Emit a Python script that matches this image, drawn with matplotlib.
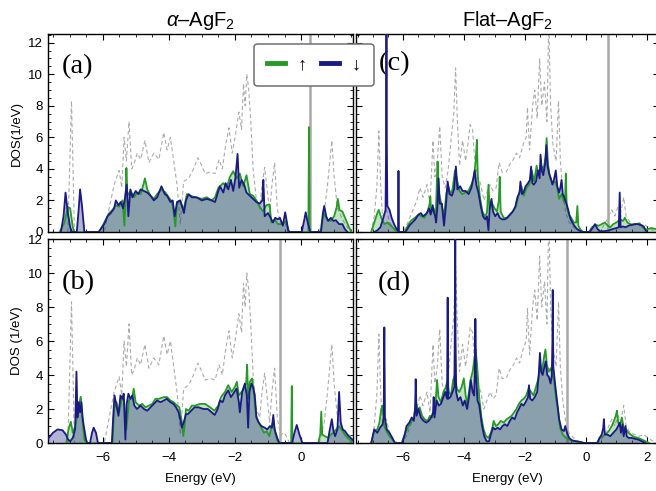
import numpy as np
import matplotlib
matplotlib.use("Agg")
import matplotlib.pyplot as plt
from matplotlib.lines import Line2D
from matplotlib.ticker import MultipleLocator

plt.rcParams['font.family'] = ['Liberation Sans', 'DejaVu Sans']
plt.rcParams['mathtext.fontset'] = 'custom'
plt.rcParams['mathtext.rm'] = 'Liberation Sans'
plt.rcParams['mathtext.it'] = 'Liberation Sans:italic'

# ---- data (energy in eV, DOS in 1/eV) ----
# (a) alpha-AgF2, spin up / spin down
a_up_E = [-7.3, -7.15, -7.05, -6.98, -6.9, -6.85,
          -6.10, -5.95, -5.8, -5.7, -5.6, -5.5, -5.4, -5.34, -5.3, -5.28, -5.25, -5.15, -5.05, -4.95,
          -4.85, -4.78, -4.72, -4.65, -4.55, -4.45, -4.35, -4.22, -4.1, -4.0, -3.9, -3.85, -3.8, -3.75,
          -3.65, -3.55, -3.45, -3.35, -3.2, -3.0, -2.85, -2.7, -2.6, -2.5, -2.35, -2.25, -2.15, -2.05,
          -1.95, -1.85, -1.75, -1.65, -1.55, -1.45, -1.35, -1.25, -1.15, -1.05, -0.95, -0.9, -0.8, -0.7,
          -0.55, -0.45, -0.4, -0.35,
          0.22, 0.24, 0.26,
          0.6, 0.68, 0.78, 0.9, 1.0, 1.08, 1.11, 1.16, 1.25, 1.35, 1.45, 1.52]
a_up_D = [0, 0.6, 1.6, 1.5, 0.3, 0,
          0, 0.6, 1.2, 1.4, 1.7, 1.6, 2.0, 0.4, 2.5, 4.06, 2.3, 2.6, 2.2, 2.5,
          2.4, 2.9, 3.4, 2.7, 2.3, 2.1, 2.4, 2.7, 2.5, 2.2, 1.9, 1.2, 0.35, 1.8,
          2.0, 1.4, 2.4, 2.3, 2.2, 2.1, 2.2, 2.0, 2.2, 2.8, 3.1, 2.8, 3.5, 3.85,
          3.4, 3.7, 2.9, 3.6, 2.4, 2.3, 2.0, 1.6, 1.3, 1.7, 1.75, 0.6, 0.8, 0.5,
          0.5, 0.7, 0.2, 0,
          0, 6.65, 0,
          0, 1.2, 0.8, 0.7, 1.0, 1.6, 2.1, 1.4, 1.3, 0.8, 0.3, 0]
a_dn_E = [-7.26, -7.18, -7.12, -7.05, -6.98, -6.92, -6.78, -6.72, -6.68, -6.62, -6.55,
          -6.12, -5.95, -5.85, -5.75, -5.65, -5.6, -5.52, -5.45, -5.38, -5.32, -5.27, -5.22, -5.16,
          -5.1, -5.0, -4.92, -4.85, -4.75, -4.65, -4.55, -4.45, -4.35, -4.22, -4.12, -4.05, -3.95,
          -3.88, -3.82, -3.75, -3.66, -3.58, -3.54, -3.48, -3.4, -3.3, -3.15, -3.0, -2.85, -2.7,
          -2.6, -2.5, -2.45, -2.35, -2.28, -2.2, -2.12, -2.05, -1.98, -1.92, -1.87, -1.8, -1.72,
          -1.65, -1.55, -1.45, -1.35, -1.25, -1.17, -1.14, -1.1, -1.0, -0.92, -0.85, -0.78, -0.7,
          -0.64, -0.55, -0.48, -0.42, -0.38,
          0.02, 0.1, 0.14, 0.2, 0.28,
          0.6, 0.66, 0.7, 0.76, 0.82, 0.9, 0.98, 1.05, 1.15, 1.25, 1.32, 1.4]
a_dn_D = [0, 1.0, 2.5, 1.2, 0.3, 0, 0, 1.5, 2.7, 1.6, 0,
          0, 0.5, 1.0, 1.2, 1.5, 2.0, 1.7, 1.9, 1.5, 2.2, 3.0, 1.0, 2.7,
          2.2, 2.6, 2.4, 2.7, 2.6, 2.5, 2.3, 2.0, 2.2, 2.9, 2.4, 2.3, 1.9,
          2.0, 1.0, 1.9, 2.0, 1.5, 1.2, 2.0, 2.4, 2.2, 2.2, 2.0, 2.1, 2.0,
          1.9, 2.6, 2.9, 2.5, 3.1, 2.7, 3.3, 2.6, 3.5, 4.95, 2.8, 3.3, 3.0,
          2.5, 2.3, 2.1, 1.9, 1.8, 2.0, 3.3, 1.0, 1.2, 0.9, 0.6, 0.9, 0.8,
          0.9, 0.4, 1.25, 0.5, 0,
          0, 0.8, 1.25, 0.6, 0,
          0, 1.2, 1.65, 1.0, 0.7, 0.9, 0.7, 0.75, 0.5, 0.5, 0.2, 0]

# total DOS (dashed), alpha-AgF2
alpha_tot_E = [-7.05, -6.94, -6.85,
               -5.95, -5.8, -5.65, -5.5, -5.42, -5.35, -5.28, -5.2, -5.12, -5.05, -4.95, -4.85, -4.72,
               -4.6, -4.45, -4.3, -4.15, -4.05, -3.95, -3.85, -3.75, -3.65, -3.55, -3.4, -3.25, -3.12,
               -3.0, -2.9, -2.75, -2.6, -2.48, -2.38, -2.28, -2.18, -2.08, -1.98, -1.88, -1.8, -1.74,
               -1.69, -1.64, -1.58, -1.52, -1.45, -1.35, -1.25, -1.18, -1.1, -1.02, -0.95, -0.88, -0.8,
               -0.72, -0.62, -0.5, -0.42, -0.35,
               0.55, 0.7, 0.8, 0.93, 1.0, 1.1, 1.25, 1.4, 1.5]
alpha_tot_D = [0, 8.3, 0,
               0, 1.5, 3.0, 3.9, 2.8, 6.0, 4.5, 7.0, 4.0, 4.3, 5.0, 4.6, 5.8,
               4.4, 5.0, 4.6, 6.3, 5.2, 6.0, 4.5, 3.0, 0.5, 3.2, 3.4, 4.0, 4.7,
               4.2, 3.7, 3.8, 3.7, 4.6, 4.0, 5.5, 6.6, 5.0, 6.2, 7.6, 6.5, 9.4,
               8.0, 10.0, 9.0, 7.0, 4.0, 2.0, 1.5, 3.0, 4.1, 2.6, 1.2, 3.0, 4.4,
               1.5, 0.5, 0.6, 0.3, 0,
               0, 1.2, 3.0, 5.8, 3.5, 1.5, 0.8, 0.3, 0]

# (b) alpha-AgF2, second configuration
b_up_E = [-7.1, -7.03, -6.96, -6.9, -6.82, -6.74, -6.66, -6.6, -6.55, -6.5,
          -5.7, -5.65, -5.58, -5.5, -5.42, -5.35, -5.28, -5.2, -5.1, -5.06, -5.0, -4.9, -4.8, -4.7,
          -4.6, -4.5, -4.4, -4.3, -4.15, -4.05, -3.95, -3.85, -3.75, -3.68, -3.6, -3.56, -3.52, -3.48,
          -3.4, -3.3, -3.2, -3.05, -2.9, -2.75, -2.62, -2.5, -2.42, -2.3, -2.2, -2.1, -2.0, -1.94,
          -1.88, -1.8, -1.72, -1.66, -1.63, -1.6, -1.55, -1.48, -1.42, -1.36, -1.28, -1.2, -1.12,
          -1.04, -0.96, -0.9, -0.84, -0.78, -0.72, -0.66,
          -0.3, -0.28, -0.26,
          0.52, 0.58, 0.61, 0.64, 0.72, 0.82, 0.9, 0.98, 1.06, 1.14, 1.22, 1.32, 1.42, 1.52, 1.58]
b_up_D = [0, 0.8, 1.25, 0.6, 1.0, 2.0, 2.72, 1.2, 0.2, 0,
          0, 2.0, 2.4, 1.8, 2.6, 2.5, 0.8, 2.5, 2.7, 3.2, 2.4, 2.2, 2.3, 2.1,
          2.2, 2.3, 2.6, 2.6, 2.7, 2.7, 2.5, 2.4, 2.2, 2.1, 1.2, 0.4, 1.0, 2.0,
          1.9, 2.2, 2.2, 2.3, 2.3, 2.1, 1.9, 2.2, 2.7, 3.0, 3.4, 3.0, 3.3, 3.6,
          2.8, 3.0, 3.2, 3.5, 4.6, 2.6, 3.6, 3.8, 2.8, 1.6, 1.2, 0.9, 0.6,
          0.7, 0.4, 0.9, 1.3, 0.6, 0.15, 0,
          0, 3.35, 0,
          0, 0.5, 1.84, 0.5, 0.4, 0.3, 0.5, 0.6, 0.8, 1.0, 0.8, 0.5, 0.3, 0.1, 0]
b_dn_E = [-7.67, -7.5, -7.36, -7.21, -7.11, -7.04, -6.98, -6.9, -6.83, -6.79, -6.76, -6.72, -6.68,
          -6.64, -6.6, -6.56, -6.5, -6.46, -6.38, -6.32, -6.27, -6.2, -6.14,
          -5.72, -5.68, -5.64, -5.58, -5.52, -5.46, -5.4, -5.36, -5.31, -5.27, -5.22, -5.16, -5.1,
          -5.04, -4.96, -4.85, -4.75, -4.65, -4.55, -4.45, -4.35, -4.25, -4.15, -4.06, -3.95, -3.86,
          -3.78, -3.7, -3.64, -3.6, -3.55, -3.48, -3.42, -3.32, -3.22, -3.1, -2.95, -2.82, -2.7,
          -2.61, -2.52, -2.45, -2.37, -2.3, -2.2, -2.12, -2.05, -1.95, -1.88, -1.85, -1.78, -1.7,
          -1.64, -1.6, -1.56, -1.5, -1.44, -1.4, -1.35, -1.28, -1.2, -1.1, -1.02, -0.94, -0.88,
          -0.84, -0.8, -0.72, -0.66,
          -0.27, -0.2, -0.13, -0.05, 0.04,
          0.8, 0.86, 0.93, 0.98, 1.03, 1.1, 1.15, 1.2, 1.26, 1.33, 1.4, 1.5, 1.6, 1.65]
b_dn_D = [0.2, 0.6, 0.8, 0.75, 0.5, 0.2, 0.1, 0.3, 0.8, 4.2, 1.5, 2.4, 1.8,
          2.4, 1.4, 0.9, 0.2, 0, 0, 0.6, 0.9, 0.6, 0,
          0, 1.5, 2.8, 2.2, 1.6, 2.8, 2.6, 2.9, 0.2, 2.3, 2.9, 2.6, 2.8,
          2.2, 2.0, 2.2, 2.0, 1.9, 2.1, 2.3, 2.5, 2.4, 2.5, 2.6, 2.4, 2.3,
          2.1, 1.8, 1.3, 0.9, 1.2, 1.7, 1.7, 1.9, 2.1, 2.1, 2.0, 2.0, 1.8,
          1.65, 2.0, 2.5, 2.4, 2.8, 3.1, 2.7, 2.9, 3.2, 2.4, 1.8, 3.0, 3.5,
          2.8, 0.9, 3.0, 3.5, 3.2, 2.8, 1.5, 1.2, 1.0, 0.9, 0.8, 1.0, 0.9,
          1.65, 0.8, 0.3, 0,
          0, 0.6, 1.06, 0.5, 0,
          0, 0.7, 1.4, 0.7, 0.4, 0.8, 3.0, 1.2, 0.8, 0.7, 0.5, 0.3, 0.1, 0]

# (c) flat-AgF2
c_up_E = [-7.05, -6.95, -6.85, -6.8, -6.72, -6.62, -6.52, -6.4, -6.3, -6.2,
          -5.95, -5.85, -5.75, -5.62, -5.5, -5.4, -5.3, -5.2, -5.13, -5.11, -5.08, -5.0, -4.93,
          -4.89, -4.87, -4.83, -4.75, -4.66, -4.58, -4.52, -4.45, -4.38, -4.3, -4.22, -4.15, -4.06,
          -3.96, -3.86, -3.76, -3.68, -3.62, -3.58, -3.55, -3.48, -3.4, -3.32, -3.25, -3.2, -3.16,
          -3.08, -3.0, -2.92, -2.86, -2.83, -2.8, -2.7, -2.6, -2.5, -2.4, -2.3, -2.2, -2.12, -2.04,
          -1.95, -1.86, -1.78, -1.7, -1.62, -1.55, -1.48, -1.4, -1.32, -1.29, -1.25, -1.18, -1.1,
          -1.02, -0.95, -0.88, -0.8, -0.72, -0.68, -0.66, -0.63, -0.56, -0.48, -0.4, -0.32, -0.28,
          -0.25, -0.18, -0.08,
          0.1, 0.2, 0.32, 0.42, 0.52, 0.62, 0.72, 0.8, 0.9, 1.0, 1.12, 1.22, 1.28, 1.36, 1.46, 1.56,
          1.66, 1.76, 1.86, 1.96, 2.06, 2.16, 2.26, 2.35]
c_up_D = [0, 0.6, 1.2, 1.4, 0.9, 0.5, 0.6, 0.4, 0.2, 0,
          0, 0.4, 0.7, 0.9, 1.1, 1.0, 0.9, 1.3, 1.8, 2.24, 1.2, 1.5, 1.0,
          3.5, 4.46, 2.5, 1.8, 1.0, 2.5, 2.9, 2.4, 2.7, 3.9, 3.2, 2.6, 2.4,
          2.5, 2.6, 3.0, 3.4, 4.5, 5.84, 3.5, 2.2, 1.3, 1.0, 1.2, 3.0, 1.4,
          1.8, 1.5, 1.3, 2.0, 3.5, 1.3, 0.9, 0.9, 1.1, 1.3, 1.6, 2.4, 2.9, 2.3,
          2.8, 3.0, 3.9, 3.2, 4.2, 3.6, 4.3, 3.9, 4.8, 5.95, 4.4, 3.4, 3.1,
          3.2, 2.9, 2.1, 2.4, 1.9, 2.4, 3.7, 1.6, 1.1, 0.9, 0.6, 0.6, 1.65,
          0.4, 0.15, 0,
          0, 0.3, 0.45, 0.4, 0.5, 0.6, 0.4, 0.3, 0.5, 0.6, 0.8, 0.7, 0.9, 0.6, 0.5, 0.45,
          0.5, 0.55, 0.3, 0.15, 0.2, 0.25, 0.2, 0.15]
c_dn_E = [-6.95, -6.85, -6.75, -6.65, -6.58, -6.56, -6.55, -6.54, -6.52, -6.45, -6.38, -6.3,
          -6.22, -6.17, -6.155, -6.14, -6.1,
          -5.92, -5.8, -5.7, -5.6, -5.5, -5.42, -5.35, -5.28, -5.22, -5.15, -5.1, -5.03, -5.0,
          -4.95, -4.92, -4.88, -4.84, -4.8, -4.73, -4.66, -4.6, -4.54, -4.48, -4.4, -4.33, -4.27,
          -4.22, -4.13, -4.05, -3.95, -3.85, -3.76, -3.7, -3.65, -3.6, -3.53, -3.45, -3.38, -3.31,
          -3.25, -3.2, -3.16, -3.1, -3.05, -2.98, -2.9, -2.83, -2.75, -2.66, -2.58, -2.49, -2.4,
          -2.32, -2.25, -2.18, -2.15, -2.1, -2.05, -1.98, -1.9, -1.84, -1.8, -1.76, -1.71, -1.64,
          -1.58, -1.52, -1.49, -1.45, -1.4, -1.34, -1.3, -1.26, -1.21, -1.15, -1.1, -1.05, -0.99,
          -0.94, -0.88, -0.84, -0.8, -0.76, -0.71, -0.64, -0.58, -0.52, -0.45, -0.38, -0.3, -0.22,
          -0.12,
          0.12, 0.2, 0.3, 0.38, 0.46, 0.6, 0.75, 0.9, 1.0, 1.08, 1.11, 1.14, 1.22, 1.3, 1.4, 1.5,
          1.6, 1.7, 1.8, 1.9, 1.96, 2.0]
c_dn_D = [0, 0.1, 0.3, 0.9, 1.4, 6.0, 13.5, 6.0, 1.65, 1.4, 0.9, 0.5,
          0.2, 0.05, 3.87, 0.05, 0,
          0, 0.4, 0.6, 0.8, 1.1, 1.2, 1.0, 1.1, 1.2, 1.5, 1.1, 1.7, 1.3,
          1.0, 0.6, 1.5, 3.4, 1.8, 1.8, 0.4, 1.6, 3.2, 2.4, 2.3, 2.7, 4.15,
          2.7, 2.9, 2.6, 2.6, 2.4, 2.8, 3.4, 3.9, 3.0, 2.5, 1.6, 1.0, 0.8,
          1.0, 0.1, 1.5, 2.1, 1.3, 1.0, 1.2, 0.9, 0.8, 0.8, 0.9, 1.1, 1.3,
          1.6, 2.2, 2.5, 3.2, 2.4, 2.5, 2.9, 3.1, 3.3, 4.15, 3.1, 3.0, 3.2,
          3.9, 3.4, 4.9, 3.9, 3.6, 4.3, 5.5, 4.2, 3.7, 3.4, 3.0, 3.3, 3.9,
          2.9, 2.5, 2.8, 3.3, 2.4, 2.2, 1.8, 1.4, 0.9, 0.6, 0.4, 0.2, 0.1,
          0,
          0, 0.2, 0.5, 0.2, 0.05, 0.05, 0.1, 0.2, 0.25, 0.3, 2.5, 0.3, 0.35, 0.3, 0.4, 0.45,
          0.5, 0.5, 0.45, 0.35, 0.1, 0]

# total DOS (dashed), flat-AgF2
flat_tot_E = [-7.05, -6.95, -6.86, -6.8, -6.74, -6.68, -6.55, -6.45, -6.3, -6.2,
              -6.0, -5.85, -5.7, -5.55, -5.45, -5.35, -5.22, -5.12, -5.02, -4.96, -4.88, -4.8,
              -4.72, -4.62, -4.52, -4.42, -4.34, -4.28, -4.22, -4.15, -4.05, -3.95, -3.88, -3.8,
              -3.72, -3.65, -3.55, -3.45, -3.35, -3.25, -3.15, -3.05, -2.95, -2.85, -2.75, -2.62,
              -2.5, -2.38, -2.28, -2.18, -2.05, -1.96, -1.92, -1.85, -1.75, -1.68, -1.6, -1.52,
              -1.45, -1.36, -1.28, -1.22, -1.16, -1.08, -0.98, -0.9, -0.84, -0.76, -0.66, -0.55,
              -0.4, -0.25, -0.15,
              0.4, 0.55, 0.7, 0.85, 0.95, 1.05, 1.15, 1.24, 1.32, 1.45, 1.6, 1.75, 1.9, 2.05, 2.2, 2.3]
flat_tot_D = [0, 1.0, 3.0, 6.4, 3.0, 1.0, 1.4, 0.6, 0.2, 0,
              0, 0.6, 1.3, 2.0, 2.8, 2.2, 3.0, 1.8, 5.8, 3.5, 4.5, 6.7,
              3.5, 2.8, 4.0, 6.0, 7.5, 10.4, 7.0, 4.2, 5.8, 4.5, 5.5, 6.8,
              6.5, 4.5, 3.5, 3.0, 2.0, 2.5, 3.0, 2.6, 2.8, 4.4, 3.8, 3.8,
              4.3, 4.6, 5.0, 4.7, 5.6, 6.0, 7.9, 5.2, 8.0, 9.0, 7.2, 11.0,
              8.0, 9.5, 7.0, 13.5, 8.0, 5.5, 4.5, 8.3, 4.5, 2.5, 1.2, 0.6,
              0.3, 0.1, 0,
              0, 0.3, 0.8, 1.4, 1.0, 1.6, 1.3, 2.2, 1.0, 0.6, 0.5, 0.4, 0.5, 0.3, 0.1, 0]

# (d) flat-AgF2, second configuration
d_up_E = [-7.05, -6.95, -6.85, -6.78, -6.72, -6.68, -6.62, -6.55, -6.45, -6.35, -6.28,
          -6.05, -5.95, -5.85, -5.75, -5.65, -5.58, -5.52, -5.46, -5.38, -5.3, -5.2, -5.12, -5.04,
          -4.98, -4.93, -4.89, -4.84, -4.76, -4.68, -4.62, -4.55, -4.5, -4.43, -4.36, -4.3, -4.24,
          -4.16, -4.08, -4.01, -3.95, -3.9, -3.84, -3.79, -3.72, -3.66, -3.62, -3.57, -3.5, -3.43,
          -3.36, -3.28, -3.2, -3.12, -3.06, -3.03, -2.96, -2.88, -2.8, -2.7, -2.6, -2.52, -2.44,
          -2.36, -2.28, -2.2, -2.12, -2.04, -1.96, -1.88, -1.8, -1.72, -1.64, -1.56, -1.5, -1.44,
          -1.38, -1.33, -1.28, -1.22, -1.16, -1.1, -1.04, -0.98, -0.92, -0.85, -0.76, -0.66, -0.55,
          -0.4, -0.25, -0.1,
          0.36, 0.45, 0.55, 0.65, 0.75, 0.85, 0.92, 0.98, 1.02, 1.06, 1.12, 1.18, 1.24, 1.32, 1.4,
          1.5, 1.6, 1.72, 1.84, 1.96, 2.08]
d_up_D = [0, 0.7, 0.8, 1.2, 2.0, 2.2, 1.0, 0.7, 0.4, 0.2, 0,
          0, 0.5, 0.9, 1.2, 1.5, 2.4, 1.9, 2.1, 1.6, 1.4, 1.3, 1.6, 1.5,
          2.0, 2.5, 3.7, 2.7, 2.4, 3.0, 3.2, 3.6, 3.0, 2.8, 3.7, 4.0, 3.2,
          3.0, 3.3, 3.8, 2.8, 2.3, 3.0, 3.7, 4.2, 5.0, 5.5, 4.5, 2.6, 1.5,
          0.8, 0.4, 0.3, 0.6, 1.0, 1.3, 1.0, 1.1, 1.3, 1.2, 1.4, 1.5, 1.6,
          1.8, 2.0, 2.3, 2.5, 2.6, 2.8, 3.2, 3.0, 2.8, 3.3, 3.8, 4.6, 4.2,
          5.0, 5.5, 4.6, 4.2, 4.4, 4.0, 3.6, 2.6, 2.0, 0.9, 0.5, 0.3, 0.2,
          0.1, 0.05, 0,
          0, 0.3, 0.4, 0.5, 0.7, 1.0, 1.3, 1.6, 1.9, 1.2, 1.0, 1.5, 0.9, 0.8, 0.6,
          0.45, 0.35, 0.3, 0.2, 0.1, 0]
d_dn_E = [-7.05, -6.95, -6.85, -6.76, -6.68, -6.64, -6.62, -6.6, -6.54, -6.45, -6.36, -6.27,
          -6.03, -5.95, -5.89, -5.8, -5.72, -5.65, -5.61, -5.59, -5.56, -5.5, -5.42, -5.33, -5.24,
          -5.16, -5.08, -5.02, -5.0, -4.97, -4.9, -4.83, -4.76, -4.68, -4.62, -4.56, -4.54, -4.52,
          -4.45, -4.38, -4.32, -4.3, -4.29, -4.28, -4.26, -4.2, -4.12, -4.04, -3.98, -3.9, -3.84,
          -3.78, -3.72, -3.67, -3.64, -3.63, -3.61, -3.56, -3.5, -3.42, -3.34, -3.26, -3.18, -3.12,
          -3.05, -2.98, -2.9, -2.82, -2.74, -2.66, -2.58, -2.5, -2.42, -2.34, -2.26, -2.2, -2.12,
          -2.05, -1.98, -1.9, -1.87, -1.83, -1.76, -1.68, -1.6, -1.55, -1.51, -1.47, -1.42, -1.36,
          -1.32, -1.27, -1.22, -1.16, -1.12, -1.1, -1.09, -1.07, -1.02, -0.95, -0.88, -0.8, -0.72,
          -0.68, -0.62, -0.55, -0.45, -0.3, -0.15, -0.05,
          0.38, 0.45, 0.52, 0.57, 0.59, 0.62, 0.7, 0.8, 0.9, 1.0, 1.06, 1.11, 1.15, 1.2, 1.24,
          1.3, 1.34, 1.4, 1.5, 1.6, 1.72, 1.84, 1.95]
d_dn_D = [0, 0.8, 0.6, 0.9, 1.1, 1.5, 6.8, 1.5, 0.8, 0.6, 0.3, 0,
          0, 0.5, 1.0, 1.2, 1.5, 1.3, 2.0, 3.75, 1.6, 2.0, 1.5, 1.3, 1.2,
          1.3, 1.5, 1.8, 2.7, 1.5, 2.5, 2.2, 2.3, 2.7, 3.0, 2.6, 8.55, 2.6,
          2.7, 3.0, 3.3, 8.0, 13.5, 6.0, 3.0, 2.5, 2.7, 2.2, 2.5, 2.0, 2.7,
          3.7, 3.0, 2.8, 5.0, 7.3, 4.0, 2.5, 2.2, 1.1, 0.4, 0.1, 0.1, 0.5,
          0.9, 0.8, 0.9, 0.8, 1.0, 1.1, 1.0, 1.3, 1.5, 1.4, 1.8, 2.0, 2.3,
          2.2, 2.4, 2.7, 3.4, 2.6, 2.5, 2.7, 3.0, 4.0, 5.3, 4.2, 4.0, 4.5,
          4.8, 4.0, 3.9, 3.5, 4.0, 6.0, 9.0, 4.5, 3.6, 2.5, 1.4, 0.8, 0.7,
          1.0, 0.6, 0.3, 0.15, 0.1, 0.05, 0,
          0, 0.3, 0.5, 0.9, 1.4, 0.5, 0.5, 0.4, 0.6, 0.8, 1.0, 1.2, 0.6, 1.1, 0.4,
          1.0, 0.4, 0.3, 0.3, 0.25, 0.2, 0.1, 0]

# Fermi level markers (vertical grey lines)
fermi = {'a': 0.27, 'b': -0.64, 'c': 0.72, 'd': -0.63}

GREEN = '#259a25'
NAVY = '#1a1a85'

fig = plt.figure(figsize=(6.56, 4.91), dpi=100)
W, H = 656.0, 491.0
ax_a = fig.add_axes([48 / W, 1 - 232 / H, 305 / W, 198 / H])
ax_c = fig.add_axes([356 / W, 1 - 232 / H, 303 / W, 198 / H])
ax_b = fig.add_axes([48 / W, 1 - 443 / H, 305 / W, 204 / H])
ax_d = fig.add_axes([356 / W, 1 - 443 / H, 303 / W, 204 / H])


def draw_panel(ax, up_E, up_D, dn_E, dn_D, tot_E, tot_D, ef, label, lab_xy):
    ax.axvline(ef, color='#a8a8a8', lw=1.8, zorder=1)
    ax.plot(tot_E, tot_D, color='#ababab', lw=0.8, ls=(0, (3.5, 2.5)), zorder=1.5)
    ax.fill_between(up_E, up_D, 0, color=GREEN, alpha=0.28, lw=0, zorder=2)
    ax.fill_between(dn_E, dn_D, 0, color=NAVY, alpha=0.33, lw=0, zorder=2.1)
    ax.plot(up_E, up_D, color=GREEN, lw=1.3, zorder=3)
    ax.plot(dn_E, dn_D, color=NAVY, lw=1.3, zorder=3.1)
    ax.text(lab_xy[0], lab_xy[1], label, transform=ax.transAxes, ha='left', va='center',
            fontsize=20.5, family='Liberation Serif')
    ax.yaxis.set_major_locator(MultipleLocator(2))
    ax.yaxis.set_minor_locator(MultipleLocator(0.5))
    ax.xaxis.set_major_locator(MultipleLocator(2))
    ax.xaxis.set_minor_locator(MultipleLocator(0.5))
    ax.tick_params(which='both', direction='in', top=True, right=True, labelsize=9.5)
    ax.tick_params(which='major', length=4, width=0.8)
    ax.tick_params(which='minor', length=2.2, width=0.6)
    ax.tick_params(axis='x', pad=6.5)
    for sp in ax.spines.values():
        sp.set_linewidth(1.0)


draw_panel(ax_a, a_up_E, a_up_D, a_dn_E, a_dn_D, alpha_tot_E, alpha_tot_D, fermi['a'], '(a)', (0.045, 0.835))
draw_panel(ax_b, b_up_E, b_up_D, b_dn_E, b_dn_D, alpha_tot_E, alpha_tot_D, fermi['b'], '(b)', (0.045, 0.786))
draw_panel(ax_c, c_up_E, c_up_D, c_dn_E, c_dn_D, flat_tot_E, flat_tot_D, fermi['c'], '(c)', (0.076, 0.852))
draw_panel(ax_d, d_up_E, d_up_D, d_dn_E, d_dn_D, flat_tot_E, flat_tot_D, fermi['d'], '(d)', (0.073, 0.781))

for ax in (ax_a, ax_b):
    ax.set_xlim(-7.65, 1.57)
for ax in (ax_c, ax_d):
    ax.set_xlim(-7.55, 2.4)
for ax in (ax_a, ax_c):
    ax.set_ylim(0, 12.55)
    ax.tick_params(labelbottom=False)
for ax in (ax_b, ax_d):
    ax.set_ylim(0, 12)
    ax.set_xlabel('Energy (eV)', fontsize=9.5, labelpad=6.5)
for ax in (ax_c, ax_d):
    ax.tick_params(labelleft=False)

ax_a.set_ylabel('DOS(1/eV)', fontsize=9.5, labelpad=4)
ax_b.set_ylabel('DOS (1/eV)', fontsize=9.5, labelpad=4)
ax_a.set_title(r'$\alpha$–AgF$_2$', fontsize=14.5, pad=6)
ax_c.set_title(r'Flat–AgF$_2$', fontsize=14.5, pad=6)

handles = [Line2D([], [], color=GREEN, lw=3.5), Line2D([], [], color=NAVY, lw=3.5)]
leg = fig.legend(handles, ['↑', '↓'], ncol=2, loc='center',
                 bbox_to_anchor=(314 / W, 1 - 65 / H), fontsize=13,
                 handlelength=1.0, handletextpad=0.7, columnspacing=0.8,
                 fancybox=True, framealpha=1, edgecolor='#707070',
                 borderpad=0.7)
leg.get_frame().set_linewidth(1.1)

fig.savefig('out.png', dpi=100)
